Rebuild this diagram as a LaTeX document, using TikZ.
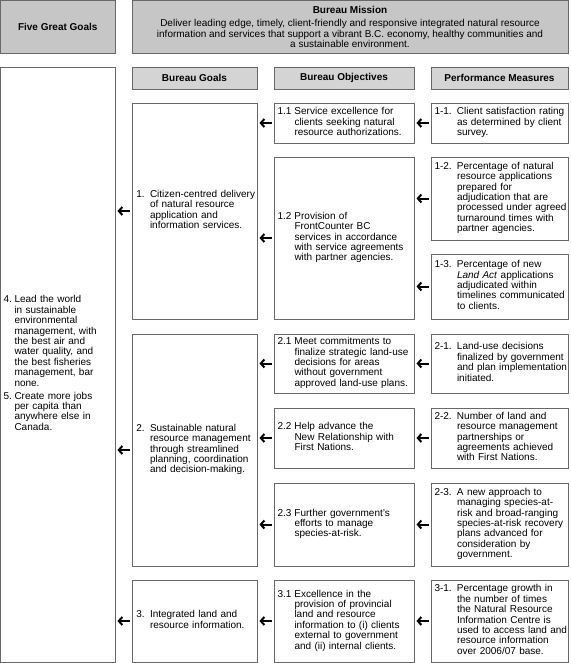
\documentclass[tikz,border=0pt]{standalone}
\usepackage{fontspec}
\setmainfont{Liberation Sans}
\usetikzlibrary{arrows.meta}
\definecolor{boxline}{RGB}{105,105,105}
\definecolor{titlefill}{RGB}{198,198,198}
\definecolor{headfill}{RGB}{212,212,212}
\newcommand\hitem[3]{\noindent\makebox[#1][l]{#2}\begin{tabular}[t]{@{}l@{}}#3\end{tabular}}

\begin{document}
\begin{tikzpicture}[x=1pt, y=-1pt, font=\fontsize{10}{10.4}\selectfont,
    box/.style={draw=boxline, line width=0.8pt, outer sep=0pt, anchor=north west, inner ysep=0pt},
    titlebox/.style={box, fill=titlefill, align=center, minimum height=52.5pt, inner xsep=0pt},
    headbox/.style={box, fill=headfill, font=\fontsize{10}{10.4}\selectfont\bfseries, minimum height=22pt, inner xsep=0pt},
    goalbox/.style={box, text width=116.5pt, inner xsep=4.25pt},
    objbox/.style={box, text width=133pt, inner xsep=3.5pt},
    pmbox/.style={box, text width=130pt, inner xsep=3.5pt},
    arr/.style={-{Straight Barb[length=3.5pt,width=8pt]}, line width=2pt, shorten <=2pt, shorten >=2.5pt}]
    \useasboundingbox (0,0) rectangle (570,663);

    % top row
    \node[titlebox, font=\fontsize{10}{10.4}\selectfont\bfseries, minimum width=114.5pt] (fgg) at (0.5,0.5) {Five Great Goals};
    \node[titlebox, minimum width=436pt] (mis) at (132,0.5) {\textbf{Bureau Mission}\\[3pt]
        Deliver leading edge, timely, client-friendly and responsive integrated natural resource\\
        information and services that support a vibrant B.C. economy, healthy communities and\\
        a sustainable environment.};

    % column heads
    \node[headbox, minimum width=125pt] (hg) at (132,67) {Bureau Goals};
    \node[headbox, minimum width=140pt] (ho) at (274,67) {Bureau Objectives};
    \node[headbox, minimum width=137pt] (hp) at (431,67) {Performance Measures};

    % five great goals
    \node[box, text width=108.5pt, inner xsep=3pt, minimum height=595pt] (fgl) at (0.5,67) {%
        \hitem{11pt}{4.}{Lead the world\\in sustainable\\environmental\\management, with\\the best air and\\water quality, and\\the best fisheries\\management, bar\\none.}\par\vspace{1.6pt}
        \hitem{11pt}{5.}{Create more jobs\\per capita than\\anywhere else in\\Canada.}\par\vspace{22pt}};

    % goal 1
    \node[goalbox, minimum height=216pt] (g1) at (132,103) {\hitem{13.75pt}{1.}{Citizen-centred delivery\\of natural resource\\application and\\information services.}};
    \node[objbox, minimum height=40pt] (o11) at (274,103) {\hitem{17pt}{1.1}{Service excellence for\\clients seeking natural\\resource authorizations.}};
    \node[objbox, minimum height=162pt] (o12) at (274,157) {\hitem{17pt}{1.2}{Provision of\\FrontCounter BC\\services in accordance\\with service agreements\\with partner agencies.}};
    \node[pmbox, minimum height=40pt] (p11) at (431,103) {\hitem{22.5pt}{1-1.}{Client satisfaction rating\\as determined by client\\survey.}};
    \node[pmbox, minimum height=83pt] (p12) at (431,157) {\hitem{22.5pt}{1-2.}{Percentage of natural\\resource applications\\prepared for\\adjudication that are\\processed under agreed\\turnaround times with\\partner agencies.}};
    \node[pmbox, minimum height=65pt] (p13) at (431,254) {\hitem{22.5pt}{1-3.}{Percentage of new\\\textit{Land Act} applications\\adjudicated within\\timelines communicated\\to clients.}};

    % goal 2
    \node[goalbox, minimum height=232pt] (g2) at (132,334) {\hitem{13.75pt}{2.}{Sustainable natural\\resource management\\through streamlined\\planning, coordination\\and decision-making.}};
    \node[objbox, minimum height=59pt] (o21) at (274,334) {\hitem{17pt}{2.1}{Meet commitments to\\finalize strategic land-use\\decisions for areas\\without government\\approved land-use plans.}};
    \node[objbox, minimum height=60pt] (o22) at (274,408) {\hitem{17pt}{2.2}{Help advance the\\New Relationship with\\First Nations.}};
    \node[objbox, minimum height=83pt] (o23) at (274,483) {\hitem{17pt}{2.3}{Further government's\\efforts to manage\\species-at-risk.}};
    \node[pmbox, minimum height=59pt] (p21) at (431,334) {\hitem{22.5pt}{2-1.}{Land-use decisions\\finalized by government\\and plan implementation\\initiated.}};
    \node[pmbox, minimum height=60pt] (p22) at (431,408) {\hitem{22.5pt}{2-2.}{Number of land and\\resource management\\partnerships or\\agreements achieved\\with First Nations.}};
    \node[pmbox, minimum height=83pt] (p23) at (431,483) {\hitem{22.5pt}{2-3.}{A new approach to\\managing species-at-\\risk and broad-ranging\\species-at-risk recovery\\plans advanced for\\consideration by\\government.}};

    % goal 3
    \node[goalbox, minimum height=82pt] (g3) at (132,580) {\hitem{13.75pt}{3.}{Integrated land and\\resource information.}};
    \node[objbox, minimum height=82pt] (o31) at (274,580) {\hitem{17pt}{3.1}{Excellence in the\\provision of provincial\\land and resource\\information to (i) clients\\external to government\\and (ii) internal clients.}};
    \node[pmbox, minimum height=82pt] (p31) at (431,580) {\hitem{22.5pt}{3-1.}{Percentage growth in\\the number of times\\the Natural Resource\\Information Centre is\\used to access land and\\resource information\\over 2006/07 base.}};

    \foreach \a/\b in {p11/o11, p12/o12, p13/o12, p21/o21, p22/o22, p23/o23, p31/o31,
        o11/g1, o12/g1, o21/g2, o22/g2, o23/g2, o31/g3, g1/fgl, g2/fgl, g3/fgl}
        {\draw[arr] (\a.west) -- (\a.west -| \b.east);}
\end{tikzpicture}
\end{document}
